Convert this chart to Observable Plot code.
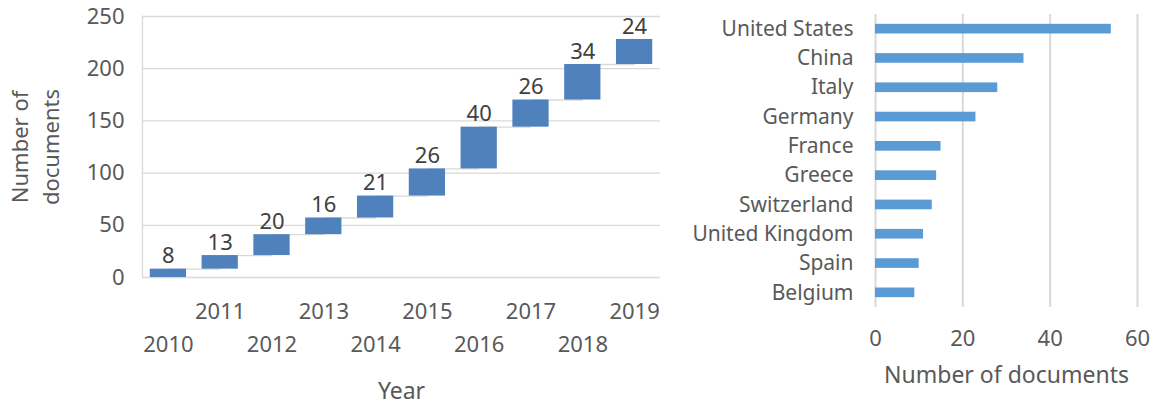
<!DOCTYPE html>
<html><head><meta charset="utf-8">
<script src="https://cdn.jsdelivr.net/npm/d3@7"></script>
<script src="https://cdn.jsdelivr.net/npm/@observablehq/plot@0.6"></script>
<style>
body{margin:0;background:#fff;}
#wrap{position:relative;width:1158px;height:405px;font-family:"Noto Sans",sans-serif;}
#left{position:absolute;left:0;top:0;}
#right{position:absolute;left:680px;top:0;}
</style></head><body><div id="wrap"><div id="left"></div><div id="right"></div></div>
<script>
// ---- data ----
const years = ["2010","2011","2012","2013","2014","2015","2016","2017","2018","2019"];
const increments = [8, 13, 20, 16, 21, 26, 40, 26, 34, 24];
const yTicksLeft = [0, 50, 100, 150, 200, 250];
const countries = ["United States","China","Italy","Germany","France","Greece","Switzerland","United Kingdom","Spain","Belgium"];
const countryDocs = [54, 34, 28, 23, 15, 14, 13, 11, 10, 9];
const xTicksRight = [0, 20, 40, 60];
const leftYTitle = "Number of\ndocuments";
const leftXTitle = "Year";
const rightXTitle = "Number of documents";

// ---- derived tables ----
const cum = Array.from(d3.cumsum(increments));
const wf = years.map((y, i) => ({year: y, start: cum[i] - increments[i], end: cum[i], value: increments[i]}));
const connectors = wf.slice(0, -1).map((d, i) => ({a: d.year, b: years[i + 1], level: d.end}));
const oddYears = years.filter((y, i) => i % 2 === 1);
const evenYears = years.filter((y, i) => i % 2 === 0);
const cdata = countries.map((c, i) => ({country: c, docs: countryDocs[i]}));

const textColor = "#595959";
const gridColor = "#d9d9d9";

const left = Plot.plot({
  width: 680, height: 405,
  marginLeft: 142, marginRight: 20, marginTop: 16, marginBottom: 128,
  style: {fontFamily: "'Noto Sans', sans-serif", fontSize: "22px", color: textColor, background: "white", overflow: "visible"},
  x: {domain: years, paddingInner: 0.3, paddingOuter: 0.15, round: false},
  y: {domain: [0, 250]},
  marks: [
    Plot.gridY(yTicksLeft, {stroke: gridColor, strokeOpacity: 1, strokeWidth: 1.3}),
    Plot.frame({anchor: "left", stroke: gridColor, strokeWidth: 1.3}),
    Plot.axisY(yTicksLeft, {tickSize: 0, tickPadding: 18, label: null, fontSize: 22, fill: textColor}),
    Plot.axisX(oddYears, {tickSize: 0, tickPadding: 26, label: null, fontSize: 22, fill: textColor}),
    Plot.axisX(evenYears, {tickSize: 0, tickPadding: 59, label: null, fontSize: 22, fill: textColor}),
    Plot.link(connectors, {x1: "a", x2: "b", y1: "level", y2: "level", stroke: gridColor, strokeWidth: 1.3}),
    Plot.barY(wf, {x: "year", y1: "start", y2: "end", fill: "#4f81bd"}),
    Plot.text(wf, {x: "year", y: "end", text: "value", dy: -13, fill: "#404040", fontSize: 22}),
    Plot.text([leftYTitle], {text: d => d, frameAnchor: "left", textAnchor: "middle", dx: -109, rotate: -90, lineHeight: 1.4, fontSize: 22, fill: textColor}),
    Plot.text([leftXTitle], {text: d => d, frameAnchor: "bottom", dy: 121, fontSize: 23, fill: textColor})
  ]
});
document.getElementById("left").append(left);

const right = Plot.plot({
  width: 478, height: 405,
  marginLeft: 195, marginRight: 21, marginTop: 14, marginBottom: 98,
  style: {fontFamily: "'Noto Sans', sans-serif", fontSize: "21px", color: textColor, background: "white", overflow: "visible"},
  x: {domain: [0, 60]},
  y: {domain: countries, paddingInner: 0.67, paddingOuter: 0.335, round: false},
  marks: [
    Plot.gridX(xTicksRight, {stroke: gridColor, strokeOpacity: 1, strokeWidth: 2}),
    Plot.axisX(xTicksRight, {tickSize: 0, tickPadding: 23, label: null, fontSize: 22, fill: textColor}),
    Plot.axisY(countries, {tickSize: 0, tickPadding: 22, label: null, fontSize: 21, fill: textColor}),
    Plot.barX(cdata, {x: "docs", y: "country", fill: "#5b9bd5"}),
    Plot.text([rightXTitle], {text: d => d, frameAnchor: "bottom", dy: 75, fontSize: 23, fill: textColor})
  ]
});
document.getElementById("right").append(right);
</script>
</body></html>
